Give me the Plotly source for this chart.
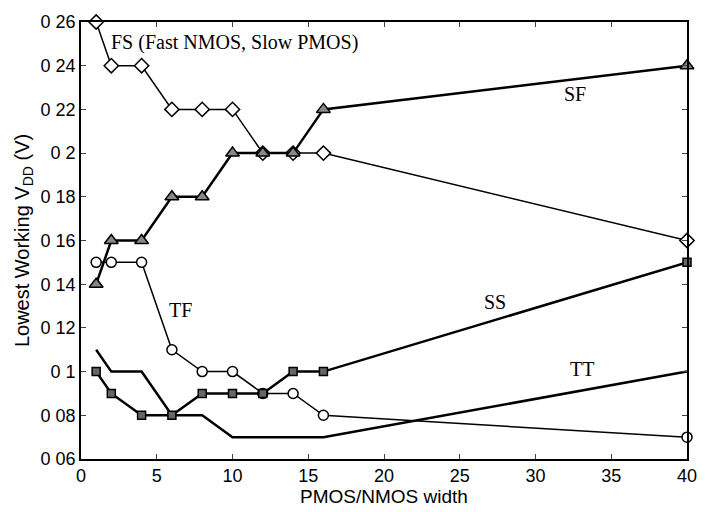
import plotly.graph_objects as go

x_vals = [1, 2, 4, 6, 8, 10, 12, 14, 16, 40]
fs = [0.26, 0.24, 0.24, 0.22, 0.22, 0.22, 0.20, 0.20, 0.20, 0.16]
sf = [0.14, 0.16, 0.16, 0.18, 0.18, 0.20, 0.20, 0.20, 0.22, 0.24]
tf = [0.15, 0.15, 0.15, 0.11, 0.10, 0.10, 0.09, 0.09, 0.08, 0.07]
ss = [0.10, 0.09, 0.08, 0.08, 0.09, 0.09, 0.09, 0.10, 0.10, 0.15]
tt = [0.11, 0.10, 0.10, 0.08, 0.08, 0.07, 0.07, 0.07, 0.07, 0.10]

y_ticks = [0.06, 0.08, 0.10, 0.12, 0.14, 0.16, 0.18, 0.20, 0.22, 0.24, 0.26]
y_ticktext = ["0 06", "0 08", "0 1", "0 12", "0 14", "0 16", "0 18", "0 2", "0 22", "0 24", "0 26"]
x_ticks = [0, 5, 10, 15, 20, 25, 30, 35, 40]

labels = [
    ("FS (Fast NMOS, Slow PMOS)", 1.85, 0.2505, "left"),
    ("SF", 32.6, 0.2271, "center"),
    ("TF", 6.6, 0.128, "center"),
    ("SS", 27.3, 0.132, "center"),
    ("TT", 33.1, 0.101, "center"),
]

fig = go.Figure()
# TT (no markers)
fig.add_trace(go.Scatter(x=x_vals, y=tt, mode="lines", line=dict(color="black", width=2.5),
                         cliponaxis=False, showlegend=False))
# TF circles
fig.add_trace(go.Scatter(x=x_vals, y=tf, mode="lines+markers", line=dict(color="black", width=1.5),
                         marker=dict(symbol="circle", size=10, color="white",
                                     line=dict(color="black", width=1.5)),
                         cliponaxis=False, showlegend=False))
# SS squares
fig.add_trace(go.Scatter(x=x_vals, y=ss, mode="lines+markers", line=dict(color="black", width=2.5),
                         marker=dict(symbol="square", size=8, color="#666666",
                                     line=dict(color="black", width=1.5)),
                         cliponaxis=False, showlegend=False))
# FS diamonds
fig.add_trace(go.Scatter(x=x_vals, y=fs, mode="lines+markers", line=dict(color="black", width=1.5),
                         marker=dict(symbol="diamond", size=11, color="white",
                                     line=dict(color="black", width=1.5)),
                         cliponaxis=False, showlegend=False))
# SF triangles
fig.add_trace(go.Scatter(x=x_vals, y=sf, mode="lines+markers", line=dict(color="black", width=2.5),
                         marker=dict(symbol="triangle-up", size=12, color="#888888",
                                     line=dict(color="black", width=1.5)),
                         cliponaxis=False, showlegend=False))

for text, xx, yy, anc in labels:
    fig.add_annotation(x=xx, y=yy, text=text, showarrow=False, xanchor=anc,
                       font=dict(family="Liberation Serif", size=20, color="black"))

fig.update_layout(
    width=709, height=512,
    margin=dict(l=81, r=16, t=19, b=51),
    paper_bgcolor="white", plot_bgcolor="white",
    font=dict(family="Liberation Sans", color="black"),
)
fig.update_xaxes(range=[0, 40], tickvals=x_ticks, ticks="inside", ticklen=5, mirror="ticks",
                 showline=True, linecolor="black", linewidth=1.5, showgrid=False, zeroline=False,
                 tickfont=dict(size=18), title=dict(text="PMOS/NMOS width", font=dict(size=19), standoff=0))
fig.update_yaxes(range=[0.06, 0.26], tickvals=y_ticks, ticktext=y_ticktext, ticks="inside", ticklen=5,
                 mirror="ticks", showline=True, linecolor="black", linewidth=1.5, showgrid=False,
                 zeroline=False, tickfont=dict(size=18),
                 title=dict(text="Lowest Working V<sub>DD</sub> (V)", font=dict(size=20), standoff=6))

fig.write_html("out.html")
